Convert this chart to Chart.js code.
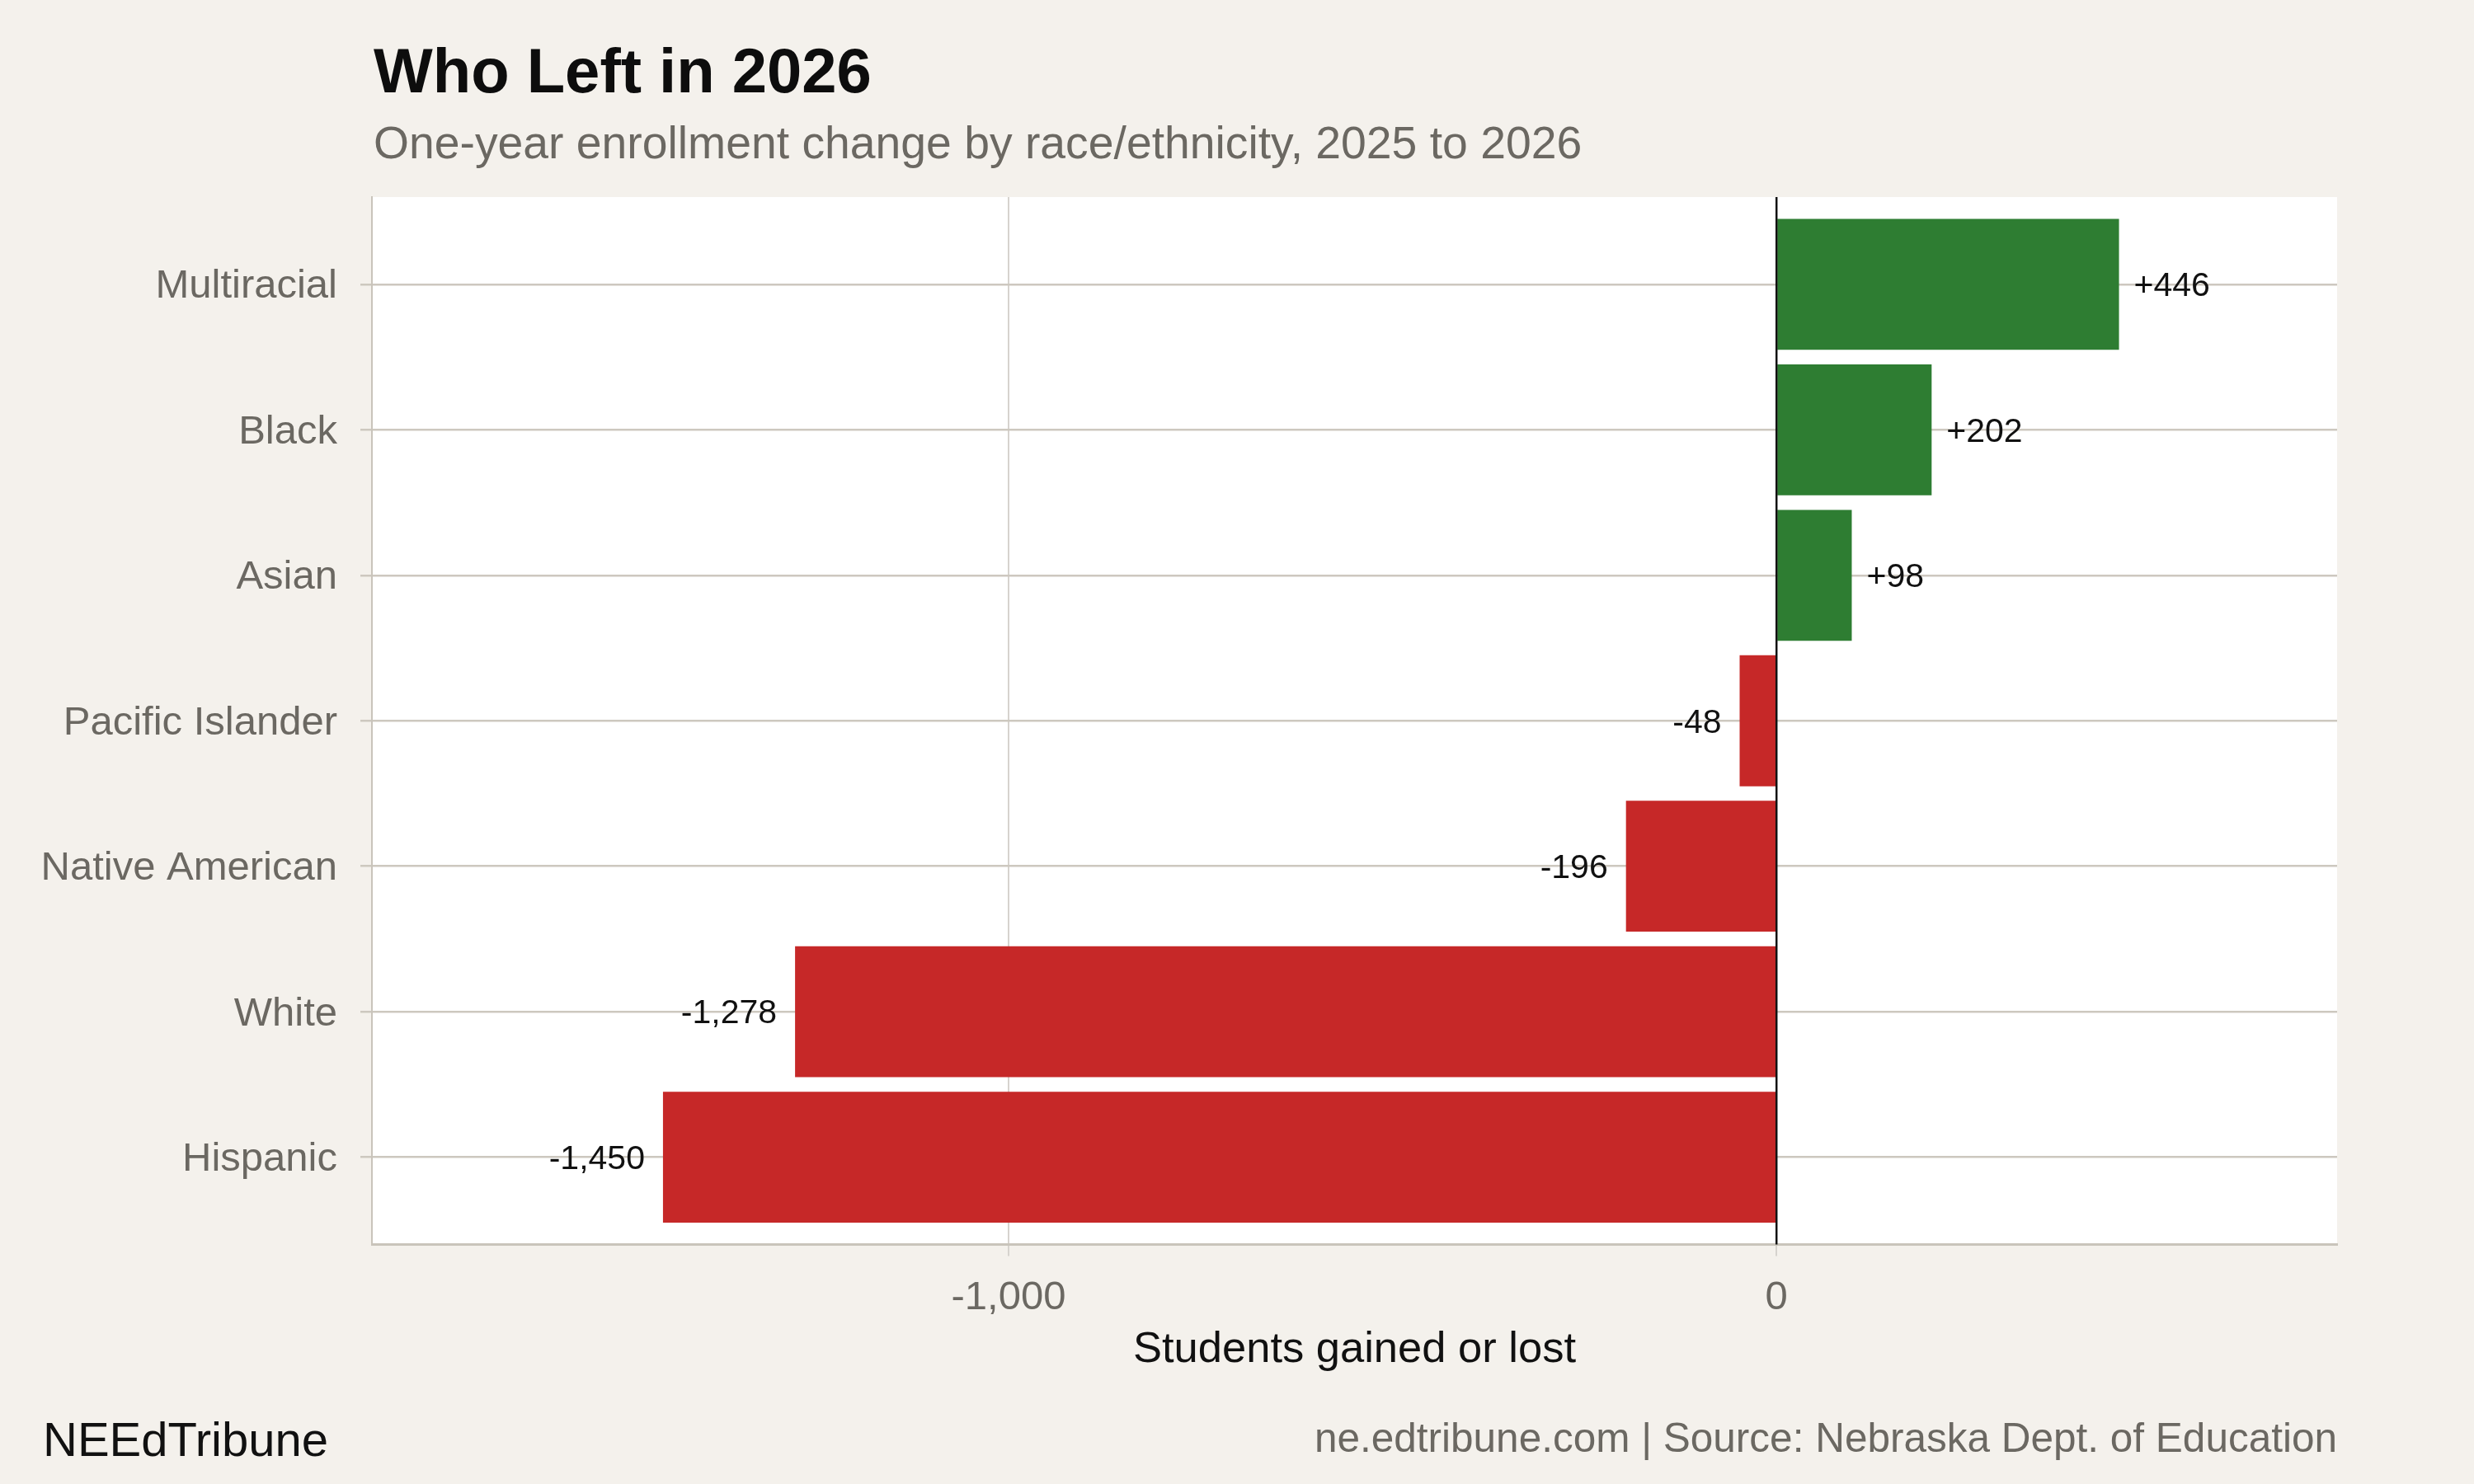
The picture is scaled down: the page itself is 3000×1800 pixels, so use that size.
<!DOCTYPE html>
<html>
<head>
<meta charset="utf-8">
<title>Who Left in 2026</title>
<script src="https://cdn.jsdelivr.net/npm/chart.js@4/dist/chart.umd.min.js"></script>
<style>
  html, body { margin: 0; padding: 0; background: #f4f1ec; }
  canvas { display: block; }
</style>
</head>
<body>
<canvas id="grafico" width="3000" height="1800" style="width:3000px;height:1800px"></canvas>
<script>
// datos
const categorias = ["Multiracial", "Black", "Asian", "Pacific Islander", "Native American", "White", "Hispanic"]
const cambios = [446, 202, 98, -48, -196, -1278, -1450]
const ticksX = [-1000, 0]

const verde = "#2e7d32"
const rojo = "#c62828"
const gris = "#6b6862"
const fuente = '"Liberation Sans", Arial, sans-serif'

const formato = (v) => (v > 0 ? "+" : "") + v.toLocaleString("en-US")

const fondo = {
  id: "fondo",
  beforeDraw(chart) {
    const { ctx, chartArea } = chart
    ctx.save()
    ctx.fillStyle = "#f4f1ec"
    ctx.fillRect(0, 0, chart.width, chart.height)
    ctx.fillStyle = "#ffffff"
    ctx.fillRect(chartArea.left, chartArea.top, chartArea.right - chartArea.left, chartArea.bottom - chartArea.top)
    ctx.restore()
  },
  afterDatasetsDraw(chart) {
    const { ctx, chartArea } = chart
    const x0 = chart.scales.x.getPixelForValue(0)
    ctx.save()
    // linea del cero
    ctx.strokeStyle = "#111111"
    ctx.lineWidth = 2.5
    ctx.beginPath()
    ctx.moveTo(x0, chartArea.top)
    ctx.lineTo(x0, chartArea.bottom)
    ctx.stroke()
    // etiquetas de valor
    ctx.font = "41px " + fuente
    ctx.fillStyle = "#111111"
    ctx.textBaseline = "middle"
    chart.getDatasetMeta(0).data.forEach((barra, i) => {
      const v = cambios[i]
      if (v >= 0) {
        ctx.textAlign = "left"
        ctx.fillText(formato(v), barra.x + 18, barra.y + 3)
      } else {
        ctx.textAlign = "right"
        ctx.fillText(formato(v), barra.x - 22, barra.y + 3)
      }
    })
    ctx.restore()
  },
  afterDraw(chart) {
    const { ctx, chartArea } = chart
    ctx.save()
    ctx.textBaseline = "alphabetic"
    ctx.textAlign = "left"
    ctx.fillStyle = "#0d0d0d"
    ctx.font = "bold 76px " + fuente
    ctx.fillText("Who Left in 2026", chartArea.left + 2, 112)
    ctx.fillStyle = gris
    ctx.font = "55.3px " + fuente
    ctx.fillText("One-year enrollment change by race/ethnicity, 2025 to 2026", chartArea.left + 2, 192)
    ctx.fillStyle = "#111111"
    ctx.font = "58px " + fuente
    ctx.fillText("NEEdTribune", 52, 1766)
    ctx.fillStyle = gris
    ctx.font = "49.5px " + fuente
    ctx.textAlign = "right"
    ctx.fillText("ne.edtribune.com | Source: Nebraska Dept. of Education", chartArea.right, 1761)
    ctx.restore()
  }
}

new Chart(document.getElementById("grafico"), {
  type: "bar",
  data: {
    datasets: [{
      data: cambios.map((v, i) => ({ x: v, y: i })),
      backgroundColor: cambios.map(v => v >= 0 ? verde : rojo),
      borderWidth: 0,
      barPercentage: 0.9,
      categoryPercentage: 1
    }]
  },
  options: {
    indexAxis: "y",
    responsive: false,
    devicePixelRatio: 1,
    animation: false,
    layout: { padding: { left: 0, top: 239, right: 166, bottom: 0 } },
    plugins: {
      legend: { display: false },
      tooltip: { enabled: false }
    },
    scales: {
      x: {
        type: "linear",
        min: -1829,
        max: 730,
        afterBuildTicks: (s) => { s.ticks = ticksX.map(v => ({ value: v })) },
        afterFit: (s) => { s.height = 290.5 },
        ticks: {
          font: { size: 49, family: fuente },
          color: gris,
          padding: 22,
          callback: (v) => v.toLocaleString("en-US")
        },
        grid: {
          color: "#d6d3ce",
          lineWidth: 2,
          tickLength: 14,
          tickColor: "#d6d3ce"
        },
        border: { display: true, color: "#c9c4bb", width: 3 },
        title: {
          display: true,
          text: "Students gained or lost",
          color: "#111111",
          font: { size: 52.5, family: fuente },
          padding: { top: 0, bottom: 131 }
        }
      },
      y: {
        type: "linear",
        reverse: true,
        offset: false,
        min: -0.6,
        max: categorias.length - 0.4,
        afterBuildTicks: (s) => { s.ticks = categorias.map((c, i) => ({ value: i })) },
        afterFit: (s) => { s.width = 451 },
        ticks: {
          font: { size: 49, family: fuente },
          color: gris,
          padding: 28,
          labelOffset: 3,
          callback: (v) => categorias[v]
        },
        grid: {
          offset: false,
          color: "#cdc8bf",
          lineWidth: 2.5,
          tickLength: 14,
          tickColor: "#cdc8bf"
        },
        border: { display: true, color: "#c9c4bb", width: 2 }
      }
    }
  },
  plugins: [fondo]
})
</script>
</body>
</html>
